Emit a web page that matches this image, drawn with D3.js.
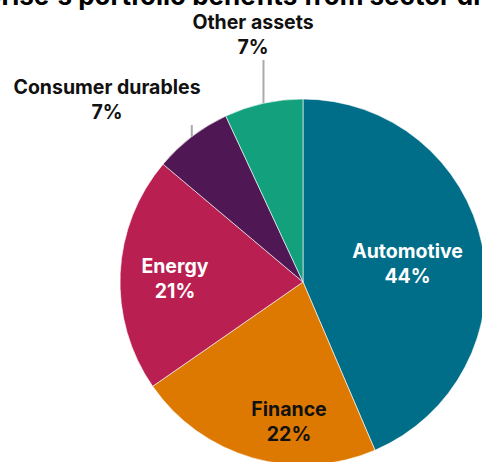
<!DOCTYPE html>
<html>
<head>
<meta charset="utf-8">
<script src="https://cdn.jsdelivr.net/npm/d3@7"></script>
<style>
  body { margin: 0; background: #fff; }
  svg text { font-family: Inter, "Open Sans", sans-serif; font-weight: 700; }
</style>
</head>
<body>
<svg id="pie"></svg>
<script>
var categories = ["Automotive", "Finance", "Energy", "Consumer durables", "Other assets"]
var shares = [44, 22, 21, 7, 7]
var labels = ["44%", "22%", "21%", "7%", "7%"]
var colors = ["#006E89", "#DD7900", "#B91F51", "#4F1854", "#13A07D"]
var textColors = ["#fff", "#111", "#fff", "#111", "#111"]
var title = "The enterprise's portfolio benefits from sector diversification"

var dimensions = {
  width: 482,
  height: 462,
  cx: 303,
  cy: 282,
  radius: 183
}

var svg = d3.select("#pie")
  .attr("width", dimensions.width)
  .attr("height", dimensions.height)

// title sits mostly above the top edge, only its bottom shows
var titleText = svg.append("text")
  .attr("y", 5)
  .style("font-size", "26px")
  .attr("fill", "#000")
  .text(title)
var probe = svg.append("text")
  .style("font-size", "26px")
  .text("The enterprise's ")
var prefixWidth = probe.node().getComputedTextLength()
probe.remove()
titleText.attr("x", 72 - prefixWidth)

var pie = d3.pie().sort(null).value(d => d)
var arcs = pie(shares)

var arc = d3.arc().innerRadius(0).outerRadius(dimensions.radius)

var g = svg.append("g")
  .attr("transform", `translate(${dimensions.cx},${dimensions.cy})`)

g.selectAll("path")
  .data(arcs)
  .enter().append("path")
  .attr("d", arc)
  .attr("fill", (d, i) => colors[i])
  .attr("stroke", "#fff")
  .attr("stroke-width", 0.6)

// label placement: inside slices use angle/radius, outside ones get a leader line
var layout = [
  { angle: 80, r: 0.58 },
  { angle: 185.7, r: 0.77 },
  { angle: 271.5, r: 0.7 },
  { outside: true, x: 107, y: 94 },
  { outside: true, x: 253, y: 29 }
]

arcs.forEach(function (d, i) {
  var lay = layout[i]
  var x, y
  if (lay.outside) {
    x = lay.x - dimensions.cx
    y = lay.y - dimensions.cy
    var mid = (d.startAngle + d.endAngle) / 2
    var ex = Math.sin(mid) * dimensions.radius
    var ey = -Math.cos(mid) * dimensions.radius
    g.append("line")
      .attr("x1", ex).attr("x2", ex)
      .attr("y1", ey).attr("y2", y + 31)
      .attr("stroke", "#aaa")
      .attr("stroke-width", 2)
  } else {
    var a = lay.angle * Math.PI / 180
    var rr = lay.r * dimensions.radius
    x = Math.sin(a) * rr
    y = -Math.cos(a) * rr - 6
  }
  var t = g.append("text")
    .attr("text-anchor", "middle")
    .attr("fill", textColors[i])
    .style("font-size", "19.5px")
  t.append("tspan").attr("x", x).attr("y", y).text(categories[i])
  t.append("tspan").attr("x", x).attr("y", y + 25).text(labels[i])
})
</script>
</body>
</html>
